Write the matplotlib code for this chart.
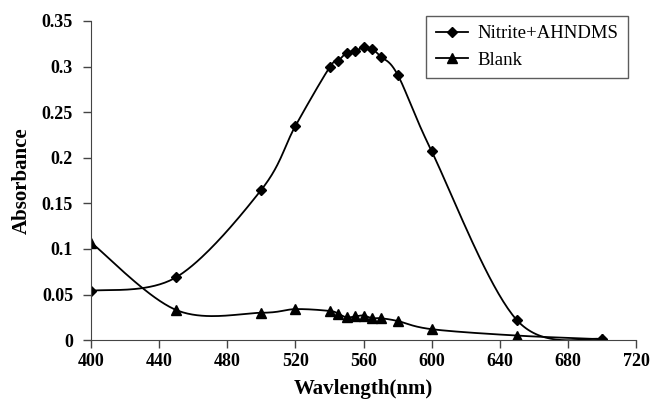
import numpy as np
import matplotlib
matplotlib.use("Agg")
import matplotlib.pyplot as plt

# ---------------- Data ---------------- #
wavelength = [400, 450, 500, 520, 540, 545, 550, 555, 560, 565, 570, 580, 600, 650, 700]
nitrite_ahndms = [0.054, 0.069, 0.165, 0.235, 0.299, 0.306, 0.315, 0.317, 0.321,
                  0.319, 0.311, 0.291, 0.207, 0.022, 0.001]
blank = [0.107, 0.033, 0.030, 0.034, 0.032, 0.029, 0.025, 0.026, 0.027,
         0.024, 0.024, 0.021, 0.012, 0.005, 0.001]

x_ticks = [400, 440, 480, 520, 560, 600, 640, 680, 720]
y_ticks = [0, 0.05, 0.1, 0.15, 0.2, 0.25, 0.3, 0.35]
y_tick_labels = ["0", "0.05", "0.1", "0.15", "0.2", "0.25", "0.3", "0.35"]


# ---------------- Smoothing ---------------- #
def smooth_curve(xs, ys, n=40):
    # spreadsheet-style smoothed line: cubic bezier, tangents from neighbours
    p = np.column_stack([xs, ys]).astype(float)
    out = []
    for i in range(len(p) - 1):
        p0 = p[i - 1] if i > 0 else p[i]
        p1, p2 = p[i], p[i + 1]
        p3 = p[i + 2] if i + 2 < len(p) else p[i + 1]
        c1 = p1 + (p2 - p0) / 6
        c2 = p2 - (p3 - p1) / 6
        t = np.linspace(0, 1, n)[:, None]
        seg = ((1 - t) ** 3) * p1 + 3 * ((1 - t) ** 2) * t * c1 + 3 * (1 - t) * t ** 2 * c2 + t ** 3 * p2
        out.append(seg if i == 0 else seg[1:])
    seg = np.vstack(out)
    return seg[:, 0], seg[:, 1]


# ---------------- Plot ---------------- #
plt.rcParams["font.family"] = ["Liberation Serif", "DejaVu Serif"]

fig = plt.figure(figsize=(6.51, 4.03), dpi=100)
ax = fig.add_axes([0.140, 0.156, 0.837, 0.792])

sx, sy = smooth_curve(wavelength, nitrite_ahndms)
ax.plot(sx, sy, color="black", lw=1.3)
ax.plot(wavelength, nitrite_ahndms, ls="none", marker="D", ms=5.5, color="black")

bx, by = smooth_curve(wavelength, blank)
ax.plot(bx, by, color="black", lw=1.3)
ax.plot(wavelength, blank, ls="none", marker="^", ms=6.5, color="black")

# legend proxies with line + marker
ax.plot([], [], color="black", lw=1.3, marker="D", ms=5.5, label="Nitrite+AHNDMS")
ax.plot([], [], color="black", lw=1.3, marker="^", ms=6.5, label="Blank")
leg = ax.legend(loc="upper right", bbox_to_anchor=(628 / 651, 1 - 16 / 403),
                bbox_transform=fig.transFigure, borderaxespad=0, frameon=True,
                fancybox=False, edgecolor="#333333", fontsize=13.5, handlelength=1.75,
                handletextpad=0.5, borderpad=0.5, labelspacing=0.5)
leg.get_frame().set_linewidth(1.0)

ax.set_xlim(400, 720)
ax.set_ylim(0, 0.35)
ax.set_xticks(x_ticks)
ax.set_yticks(y_ticks)
ax.set_yticklabels(y_tick_labels)
for lbl in ax.get_xticklabels() + ax.get_yticklabels():
    lbl.set_fontweight("bold")
    lbl.set_fontsize(13)

ax.spines["top"].set_visible(False)
ax.spines["right"].set_visible(False)
ax.spines["left"].set_color("#444444")
ax.spines["bottom"].set_color("#444444")
ax.tick_params(direction="out", length=6, width=1, color="#444444")
ax.tick_params(axis="y", pad=7)

ax.set_xlabel("Wavlength(nm)", fontsize=15, fontweight="bold", labelpad=6)
ax.set_ylabel("Absorbance", fontsize=15, fontweight="bold", labelpad=7)

fig.savefig("out.png", dpi=100)
